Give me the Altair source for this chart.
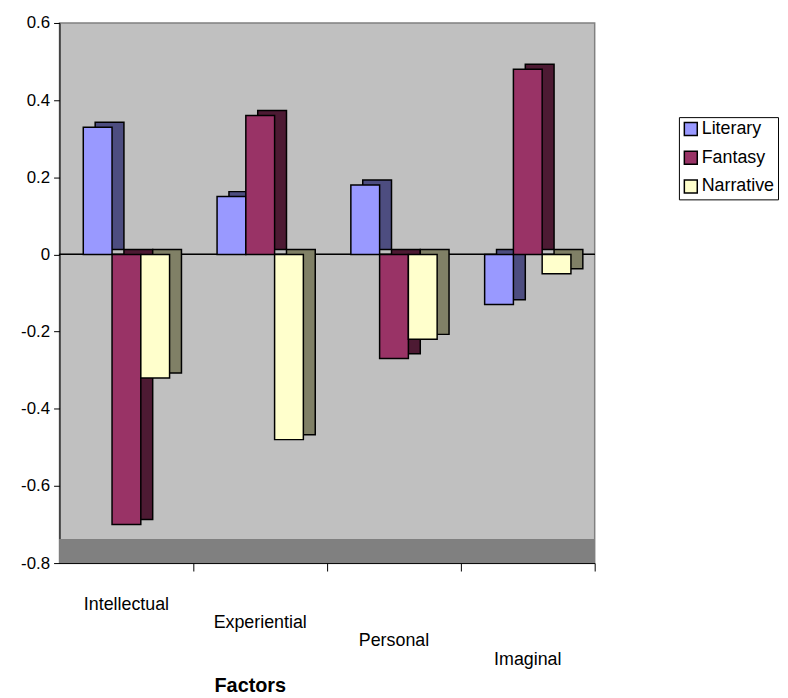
import altair as alt
import pandas as pd

categories = ["Intellectual", "Experiential", "Personal", "Imaginal"]
series = ["Literary", "Fantasy", "Narrative"]
literary = [0.33, 0.15, 0.18, -0.13]
fantasy = [-0.70, 0.36, -0.27, 0.48]
narrative = [-0.32, -0.48, -0.22, -0.05]

front_colors = ["#9999FF", "#993366", "#FFFFCC"]
side_colors = ["#4D4D80", "#4D1A33", "#808066"]

rows = []
for s, vals in zip(series, [literary, fantasy, narrative]):
    for c, v in zip(categories, vals):
        rows.append({"Factor": c, "Series": s, "Value": v})
df = pd.DataFrame(rows)
cat_df = pd.DataFrame({"Factor": categories})

FONT = "Liberation Sans"
BAR = 0.215  # bar width as a fraction of one category slot

cat_js = "[" + ",".join(f"'{c}'" for c in categories) + "]"
ser_js = "[" + ",".join(f"'{s}'" for s in series) + "]"

x_scale = alt.Scale(domain=[-0.5, 3.5], nice=False, zero=False)
x_axis = alt.Axis(
    title="Factors",
    titleFont=FONT,
    titleFontSize=20,
    titleFontWeight="bold",
    titleColor="black",
    titleY=114,
    titleX=192,
    titleBaseline="top",
    values=[0.5, 1.5, 2.5, 3.5],
    labels=False,
    tickColor="black",
    tickSize=8,
    domainColor="black",
    grid=False,
)

y_scale = alt.Scale(domain=[-0.8, 0.6], nice=False, zero=False)
y_axis = alt.Axis(
    title=None,
    values=[-0.8, -0.6, -0.4, -0.2, 0, 0.2, 0.4, 0.6],
    labelExpr="replace(format(datum.value, '.1~f'), '\u2212', '-')",
    labelFont=FONT,
    labelFontSize=17,
    labelColor="black",
    labelPadding=4,
    tickColor="black",
    tickSize=6,
    domainColor="black",
    grid=False,
)

base = alt.Chart(df).transform_calculate(
    pos=f"indexof({cat_js}, datum.Factor) + (indexof({ser_js}, datum.Series) - 1) * {BAR}",
).transform_calculate(
    x0=f"datum.pos - {BAR / 2}",
    x1=f"datum.pos + {BAR / 2}",
)

floor = alt.Chart(df).mark_rule(color="#808080", strokeWidth=24, yOffset=-12).encode(
    y=alt.datum(-0.8, scale=y_scale, axis=y_axis)
)
zero_line = alt.Chart(df).mark_rule(color="black", strokeWidth=1).encode(
    y=alt.datum(0)
)

side = base.mark_bar(
    stroke="black", strokeWidth=1.5, xOffset=12, x2Offset=12, yOffset=-5, y2Offset=-5
).encode(
    x=alt.X("x0:Q", scale=x_scale, axis=x_axis),
    x2="x1:Q",
    y=alt.Y("Value:Q", scale=y_scale, axis=y_axis),
    y2=alt.datum(0),
    fill=alt.Fill(
        "Series:N",
        scale=alt.Scale(domain=series, range=side_colors),
        legend=None,
    ),
)

front = base.mark_bar(stroke="black", strokeWidth=1.5).encode(
    x=alt.X("x0:Q", scale=x_scale, axis=x_axis),
    x2="x1:Q",
    y=alt.Y("Value:Q", scale=y_scale, axis=y_axis),
    y2=alt.datum(0),
    color=alt.Color(
        "Series:N",
        scale=alt.Scale(domain=series, range=front_colors),
        legend=alt.Legend(
            title=None,
            orient="none",
            legendX=625,
            legendY=95,
            labelFont=FONT,
            labelFontSize=18,
            labelColor="black",
            symbolType="square",
            symbolSize=170,
            symbolStrokeColor="black",
            symbolStrokeWidth=1.5,
            strokeColor="black",
            fillColor="white",
            padding=3,
            rowPadding=9,
            labelOffset=2,
        ),
    ),
)

# staggered category labels (mimicking the perspective of the original)
label_layers = []
for i, cat in enumerate(categories):
    label_layers.append(
        alt.Chart(cat_df)
        .transform_filter(alt.datum.Factor == cat)
        .transform_calculate(xc=f"indexof({cat_js}, datum.Factor)")
        .mark_text(
            font=FONT, fontSize=18, color="black", baseline="middle",
            align="center", dy=42 + 18.5 * i,
        )
        .encode(
            x=alt.X("xc:Q", scale=x_scale, axis=x_axis),
            y=alt.datum(-0.8),
            text="Factor:N",
        )
    )

chart = (
    alt.layer(floor, zero_line, side, front, *label_layers)
    .resolve_scale(fill="independent", color="independent")
    .properties(
        width=540,
        height=545,
        autosize=alt.AutoSizeParams(type="none"),
        padding={"left": 52, "top": 12, "right": 187, "bottom": 130},
        background="white",
    )
    .configure_view(fill="#C0C0C0", stroke="#808080", strokeWidth=1.5)
)

chart.save("out.html", embed_options={"renderer": "svg", "actions": False})
